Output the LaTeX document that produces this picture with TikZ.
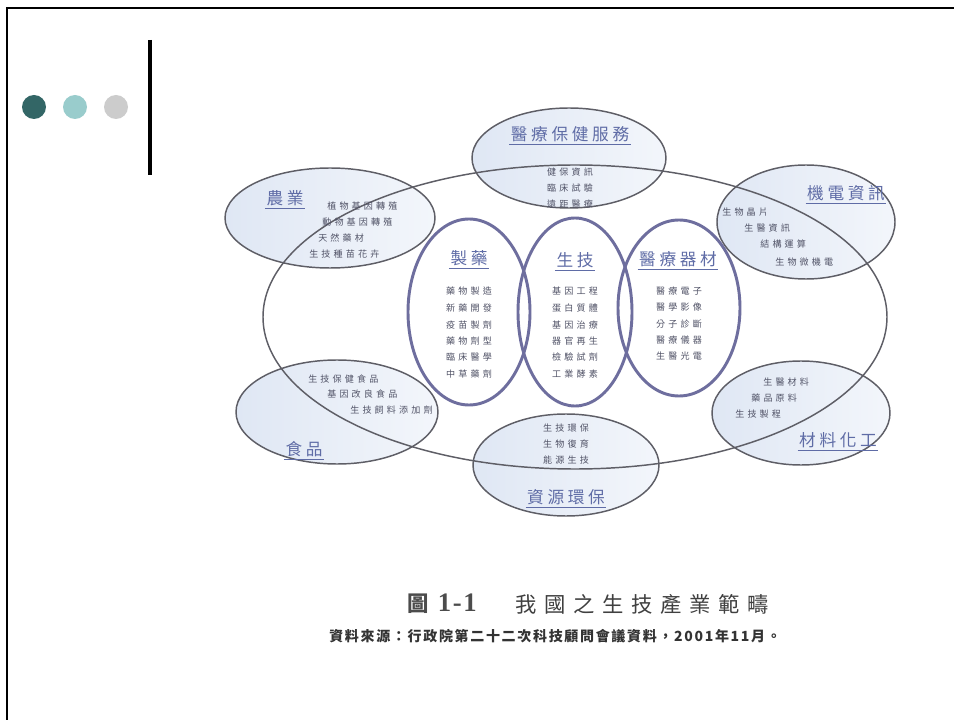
\documentclass[tikz,border=0pt]{standalone}
\usepackage{fontspec}
\setmainfont{Noto Sans CJK TC}
\newfontfamily\headfont[LetterSpace=22]{Noto Sans CJK TC}
\newfontfamily\itemfont[LetterSpace=35]{Noto Sans CJK TC}
\newfontfamily\titlefont[LetterSpace=36]{Noto Sans CJK TC}
\newfontfamily\srcfont[LetterSpace=12]{Noto Sans CJK TC}
\newfontfamily\numfont[LetterSpace=6]{Liberation Serif}
\definecolor{dotA}{HTML}{336666}
\definecolor{dotB}{HTML}{99CCCC}
\definecolor{dotC}{HTML}{CCCCCC}
\definecolor{headc}{HTML}{5F6CA6}
\definecolor{itemc}{HTML}{505266}
\definecolor{outc}{HTML}{5E5E66}
\definecolor{innc}{HTML}{6E6E9E}
\definecolor{bluef}{HTML}{DFE7F4}
\definecolor{bluel}{HTML}{F3F6FB}
\tikzset{
  headtxt/.style={font=\headfont\fontsize{12.5}{14}\selectfont, text=headc, inner sep=1pt},
  itemtxt/.style={font=\itemfont\fontsize{6.8}{8}\selectfont, text=itemc, inner sep=0pt},
  outring/.style={draw=outc, line width=1.1pt},
  innring/.style={draw=innc, line width=2.2pt},
  smallfill/.style={left color=bluef, right color=bluel},
  uline/.style={draw=headc, line width=0.7pt}
}
\begin{document}
\begin{tikzpicture}[x=0.75pt,y=-0.75pt]
\useasboundingbox (0,0) rectangle (954,720);
\fill[white] (0,0) rectangle (954,720);
% frame
\draw[line width=2pt] (7,720) -- (7,8) -- (954,8);
% dots and bar
\fill[dotA] (34,107) circle (12);
\fill[dotB] (75,107) circle (12);
\fill[dotC] (116,107) circle (12);
\draw[line width=3pt] (150,40) -- (150,175);

% fills of outer small ellipses
\shade[smallfill] (569,158) ellipse [x radius=97, y radius=50];
\shade[smallfill] (330,218) ellipse [x radius=105, y radius=50];
\shade[smallfill] (806,222) ellipse [x radius=89, y radius=57];
\shade[smallfill] (337,412) ellipse [x radius=101, y radius=52];
\shade[smallfill] (801,413) ellipse [x radius=89, y radius=52];
\shade[smallfill] (566,465) ellipse [x radius=93, y radius=51];

% big ellipse
\draw[outring] (575,317) ellipse [x radius=312, y radius=152];
% outlines of outer small ellipses
\draw[outring] (569,158) ellipse [x radius=97, y radius=50];
\draw[outring] (330,218) ellipse [x radius=105, y radius=50];
\draw[outring] (806,222) ellipse [x radius=89, y radius=57];
\draw[outring] (337,412) ellipse [x radius=101, y radius=52];
\draw[outring] (801,413) ellipse [x radius=89, y radius=52];
\draw[outring] (566,465) ellipse [x radius=93, y radius=51];

% inner ellipses
\fill[white] (469,312) ellipse [x radius=61, y radius=93];
\fill[white] (575,312) ellipse [x radius=57, y radius=94];
\fill[white] (679,308) ellipse [x radius=61, y radius=88];
\draw[innring] (469,312) ellipse [x radius=61, y radius=93];
\draw[innring] (575,312) ellipse [x radius=57, y radius=94];
\draw[innring] (679,308) ellipse [x radius=61, y radius=88];

% 醫療保健服務
\node[headtxt] (hS) at (570,134) {醫療保健服務};
\draw[uline] ([yshift=-1pt]hS.south west) -- ([yshift=-1pt]hS.south east);
\node[itemtxt] (s1) at (570,172) {健保資訊};
\node[itemtxt] (s2) at (570,188) {臨床試驗};
\node[itemtxt] (s3) at (570,204) {遠距醫療};

% 農業
\node[headtxt] (hA) at (285,198) {農業};
\draw[uline] ([yshift=-1pt]hA.south west) -- ([yshift=-1pt]hA.south east);
\node[itemtxt, anchor=west] (a1) at (327,206) {植物基因轉殖};
\node[itemtxt, anchor=west] (a2) at (322,222) {動物基因轉殖};
\node[itemtxt, anchor=west] (a3) at (318,238) {天然藥材};
\node[itemtxt, anchor=west] (a4) at (309,254) {生技種苗花卉};

% 機電資訊
\node[headtxt] (hE) at (846,193) {機電資訊};
\draw[uline] ([yshift=-1pt]hE.south west) -- ([yshift=-1pt]hE.south east);
\node[itemtxt, anchor=west] (e1) at (722,212) {生物晶片};
\node[itemtxt, anchor=west] (e2) at (744,228) {生醫資訊};
\node[itemtxt, anchor=west] (e3) at (760,244) {結構運算};
\node[itemtxt, anchor=west] (e4) at (775,262) {生物微機電};

% 製藥
\node[headtxt] (hP) at (469,258) {製藥};
\draw[uline] ([yshift=-1pt]hP.south west) -- ([yshift=-1pt]hP.south east);
\node[itemtxt] (p1) at (469,291) {藥物製造};
\node[itemtxt] (p2) at (469,308) {新藥開發};
\node[itemtxt] (p3) at (469,325) {疫苗製劑};
\node[itemtxt] (p4) at (469,341) {藥物劑型};
\node[itemtxt] (p5) at (469,357) {臨床醫學};
\node[itemtxt] (p6) at (469,374) {中草藥劑};

% 生技
\node[headtxt] (hB) at (575,260) {生技};
\draw[uline] ([yshift=-1pt]hB.south west) -- ([yshift=-1pt]hB.south east);
\node[itemtxt] (b1) at (575,291) {基因工程};
\node[itemtxt] (b2) at (575,308) {蛋白質體};
\node[itemtxt] (b3) at (575,325) {基因治療};
\node[itemtxt] (b4) at (575,341) {器官再生};
\node[itemtxt] (b5) at (575,357) {檢驗試劑};
\node[itemtxt] (b6) at (575,374) {工業酵素};

% 醫療器材
\node[headtxt] (hM) at (678,259) {醫療器材};
\draw[uline] ([yshift=-1pt]hM.south west) -- ([yshift=-1pt]hM.south east);
\node[itemtxt] (m1) at (679,291) {醫療電子};
\node[itemtxt] (m2) at (679,307) {醫學影像};
\node[itemtxt] (m3) at (679,324) {分子診斷};
\node[itemtxt] (m4) at (679,340) {醫療儀器};
\node[itemtxt] (m5) at (679,356) {生醫光電};

% 食品
\node[headtxt] (hF) at (304,449) {食品};
\draw[uline] ([yshift=-1pt]hF.south west) -- ([yshift=-1pt]hF.south east);
\node[itemtxt, anchor=west] (f1) at (308,379) {生技保健食品};
\node[itemtxt, anchor=west] (f2) at (327,394) {基因改良食品};
\node[itemtxt, anchor=west] (f3) at (350,410) {生技飼料添加劑};

% 材料化工
\node[headtxt] (hC) at (838,440) {材料化工};
\draw[uline] ([yshift=-1pt]hC.south west) -- ([yshift=-1pt]hC.south east);
\node[itemtxt, anchor=west] (c1) at (763,382) {生醫材料};
\node[itemtxt, anchor=west] (c2) at (751,398) {藥品原料};
\node[itemtxt, anchor=west] (c3) at (735,414) {生技製程};

% 資源環保
\node[itemtxt] (r1) at (566,428) {生技環保};
\node[itemtxt] (r2) at (566,444) {生物復育};
\node[itemtxt] (r3) at (566,460) {能源生技};
\node[headtxt] (hR) at (566,497) {資源環保};
\draw[uline] ([yshift=-1pt]hR.south west) -- ([yshift=-1pt]hR.south east);

% caption
\node[font=\fontsize{16}{18}\selectfont\bfseries, text=black!70, anchor=west, inner sep=0pt] (capA) at (407,604) {圖\hspace{7pt}{\numfont\fontsize{20}{22}\selectfont 1-1}};
\node[font=\titlefont\fontsize{16}{18}\selectfont, text=black!75, anchor=west, inner sep=0pt] (capB) at (515,604) {我國之生技產業範疇};
\node[font=\srcfont\fontsize{10.5}{12}\selectfont\bfseries, text=black!80, anchor=west, inner sep=0pt] (src) at (329,636) {資料來源：行政院第二十二次科技顧問會議資料，2001年11月。};
\end{tikzpicture}
\end{document}
